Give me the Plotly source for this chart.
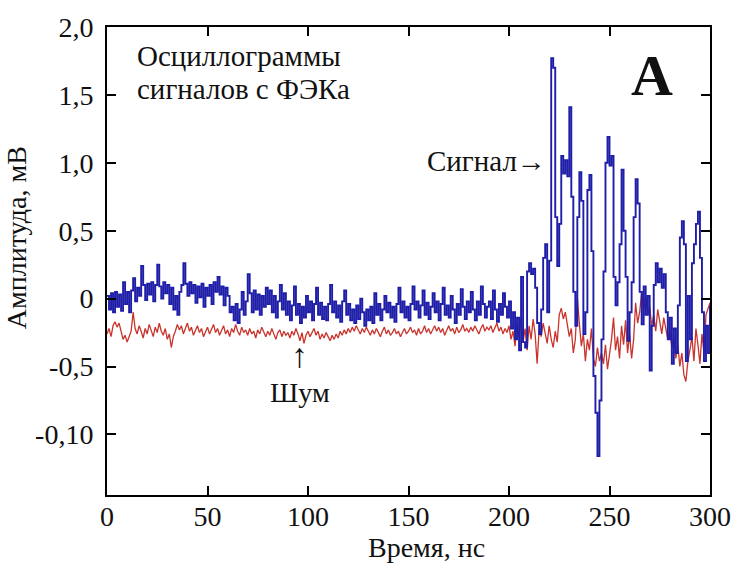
import plotly.graph_objects as go

# Sampling grid of the oscilloscope, ns (1 ns step)
time_ns = list(range(0, 301))

# Photomultiplier (ФЭК) output, mV
signal_mv = [
    0.02, -0.08, 0.04, -0.10, 0.05, -0.06, 0.03, -0.09, 0.12, -0.04,
    0.05, -0.10, 0.06, 0.15, -0.02, 0.08, 0.02, 0.24, 0.10, -0.01,
    0.11, 0.03, 0.12, -0.02, 0.10, 0.25, 0.09, 0.00, 0.12, 0.04,
    0.10, -0.04, 0.08, -0.08, 0.02, -0.12, 0.05, 0.10, 0.26, 0.11,
    0.02, 0.12, 0.04, 0.10, -0.03, 0.09, 0.01, 0.11, -0.06, 0.08,
    0.02, 0.10, -0.04, 0.12, 0.05, 0.16, 0.03, 0.09, -0.05, 0.08,
    0.02, -0.10, -0.06, -0.16, -0.04, -0.18, -0.08, 0.05, -0.12, -0.02,
    0.18, 0.04, -0.10, 0.06, -0.08, 0.03, -0.12, 0.02, -0.06, 0.08,
    -0.04, 0.06, -0.10, 0.02, -0.14, -0.02, 0.10, -0.08, 0.04, -0.12,
    -0.02, -0.16, -0.05, 0.09, -0.12, -0.04, -0.18, -0.06, -0.14, 0.02,
    -0.10, -0.02, -0.16, -0.04, 0.08, -0.12, -0.03, -0.15, -0.06, -0.16,
    -0.04, 0.10, -0.10, -0.02, -0.14, -0.05, -0.17, -0.02, 0.06, -0.12,
    -0.04, -0.16, -0.08, -0.18, -0.05, -0.15, 0.00, -0.10, -0.20, -0.08,
    -0.16, -0.06, -0.18, 0.04, -0.12, -0.04, -0.16, -0.08, 0.02, -0.10,
    -0.03, -0.14, -0.06, -0.17, -0.04, 0.08, -0.10, -0.02, -0.14, -0.06,
    -0.16, -0.04, 0.09, -0.08, -0.02, -0.14, -0.05, 0.06, -0.12, -0.03,
    -0.15, -0.06, 0.04, -0.10, -0.02, -0.16, -0.04, 0.08, -0.12, -0.05,
    -0.14, 0.02, -0.08, -0.18, -0.04, -0.12, 0.07, -0.06, -0.15, -0.02,
    -0.10, 0.05, -0.08, -0.16, -0.02, -0.12, 0.09, -0.04, -0.14, -0.06,
    -0.02, -0.15, 0.06, -0.08, -0.17, -0.04, -0.12, 0.04, -0.06, -0.14,
    -0.02, -0.22, -0.10, -0.30, -0.14, -0.38, 0.16, -0.32, -0.36, 0.20,
    0.26, 0.18, 0.22, 0.08, -0.18, -0.26, -0.08, 0.30, 0.40, -0.10,
    0.28, 1.77, 1.70, 0.60, 0.24, 0.55, 1.05, 0.92, 1.02, 0.90,
    1.41, 0.75, 0.05, -0.20, 0.60, 0.93, 0.72, -0.26, -0.10, 0.80,
    0.91, 0.35, -0.57, -0.84, -1.16, -0.75, -0.30, 0.20, 1.00, 1.19,
    0.98, 1.05, 0.16, -0.05, 0.12, 0.40, 0.95, 0.50, 0.16, -0.31,
    -0.10, 0.12, 0.60, 0.88, 0.70, 0.05, -0.19, 0.09, -0.12, 0.02,
    -0.53, -0.20, 0.10, 0.26, 0.12, 0.22, 0.08, 0.18, -0.10, -0.30,
    -0.14, -0.48, -0.22, -0.40, -0.05, 0.45, 0.57, 0.40, -0.46, 0.02,
    -0.30, 0.26, 0.40, 0.55, 0.64, 0.30, -0.10, -0.46, -0.20, -0.40,
    -0.05,
]

# Background noise trace, mV
noise_mv = [
    -0.26, -0.22, -0.28, -0.20, -0.17, -0.21, -0.18, -0.25, -0.30, -0.27,
    -0.32, -0.28, -0.24, -0.10, -0.22, -0.26, -0.20, -0.24, -0.29, -0.22,
    -0.26, -0.19, -0.23, -0.28, -0.21, -0.25, -0.18, -0.24, -0.27, -0.22,
    -0.30, -0.26, -0.36, -0.28, -0.24, -0.19, -0.23, -0.20, -0.26, -0.22,
    -0.18, -0.24, -0.21, -0.27, -0.23, -0.20, -0.25, -0.22, -0.28, -0.24,
    -0.21, -0.26, -0.23, -0.19, -0.25, -0.22, -0.27, -0.24, -0.20, -0.26,
    -0.23, -0.28, -0.22, -0.25, -0.19, -0.24, -0.27, -0.21, -0.25, -0.23,
    -0.27, -0.22, -0.26, -0.24, -0.29, -0.23, -0.26, -0.21, -0.25, -0.28,
    -0.24, -0.27, -0.22, -0.26, -0.30, -0.25, -0.23, -0.28, -0.24, -0.27,
    -0.25, -0.29, -0.24, -0.27, -0.22, -0.26, -0.31, -0.25, -0.33, -0.27,
    -0.24, -0.28, -0.25, -0.22, -0.27, -0.24, -0.30, -0.26, -0.29, -0.25,
    -0.28, -0.31, -0.27, -0.30, -0.26, -0.29, -0.24, -0.27, -0.23, -0.26,
    -0.22, -0.25, -0.21, -0.24, -0.20, -0.23, -0.26, -0.22, -0.25, -0.21,
    -0.24, -0.27, -0.23, -0.26, -0.22, -0.25, -0.28, -0.24, -0.21, -0.26,
    -0.23, -0.27, -0.25, -0.22, -0.26, -0.24, -0.28, -0.25, -0.22, -0.26,
    -0.24, -0.21, -0.25, -0.23, -0.27, -0.22, -0.26, -0.24, -0.20, -0.25,
    -0.22, -0.26, -0.23, -0.20, -0.24, -0.21, -0.25, -0.22, -0.27, -0.23,
    -0.20, -0.24, -0.22, -0.26, -0.21, -0.25, -0.23, -0.19, -0.24, -0.22,
    -0.25, -0.21, -0.24, -0.20, -0.23, -0.26, -0.22, -0.19, -0.24, -0.21,
    -0.23, -0.20, -0.25, -0.22, -0.18, -0.24, -0.21, -0.26, -0.22, -0.25,
    -0.20, -0.30, -0.24, -0.35, -0.18, -0.28, -0.14, -0.32, -0.22, -0.38,
    -0.20, -0.30, -0.15, -0.26, -0.48, -0.22, -0.28, -0.18, -0.25, -0.33,
    -0.20, -0.30, -0.36, -0.24, -0.32, -0.12, -0.07, -0.15, -0.10, -0.20,
    -0.28, -0.22, -0.40, -0.30, 0.00, -0.18, -0.35, -0.26, -0.46, -0.30,
    -0.38, -0.22, -0.44, -0.50, -0.36, -0.46, -0.40, -0.48, -0.34, -0.52,
    -0.42, -0.30, -0.14, -0.38, -0.28, -0.44, -0.20, -0.34, -0.16, -0.40,
    -0.26, -0.44, -0.30, -0.03, -0.18, -0.10, 0.04, -0.08, 0.02, -0.12,
    -0.06, -0.20, -0.12, -0.24, -0.08, -0.18, -0.26, -0.14, -0.22, -0.30,
    -0.24, -0.36, -0.28, -0.44, -0.34, -0.50, -0.40, -0.56, -0.61, -0.46,
    -0.38, -0.28, -0.46, -0.22, -0.34, -0.48, -0.26, -0.40, -0.12, -0.08,
    -0.03,
]

x_ticks = [0, 50, 100, 150, 200, 250, 300]
y_ticks = [2.0, 1.5, 1.0, 0.5, 0.0, -0.5, -1.0]
y_tick_text = ["2,0", "1,5", "1,0", "0,5", "0", "-0,5", "-0,10"]

FONT = "Liberation Serif"

fig = go.Figure()
fig.add_trace(go.Scatter(
    x=time_ns, y=noise_mv, mode="lines",
    line=dict(color="#c8342c", width=1.3),
    showlegend=False, hoverinfo="skip",
))
fig.add_trace(go.Scatter(
    x=time_ns, y=signal_mv, mode="lines",
    line=dict(color="#1e1ea8", width=1.9, shape="hv"),
    showlegend=False, hoverinfo="skip",
))

axis_common = dict(
    showline=True, linecolor="black", linewidth=2, mirror="ticks",
    ticks="inside", ticklen=9, tickwidth=2, tickcolor="black",
    showgrid=False, zeroline=False,
    tickfont=dict(family=FONT, size=28, color="#111"),
)

fig.update_layout(
    width=743, height=565,
    margin=dict(l=107, r=30, t=16, b=70),
    paper_bgcolor="white", plot_bgcolor="white",
    xaxis=dict(range=[0, 300], tickvals=x_ticks, ticklabelstandoff=-5,
               **axis_common),
    yaxis=dict(range=[-1.446, 2.0], tickvals=y_ticks, ticktext=y_tick_text,
               ticklabelstandoff=6, **axis_common),
    font=dict(family=FONT, color="#111"),
)

annotations = [
    dict(x=14, y=1.79, text="Осциллограммы", xanchor="left", yanchor="middle",
         font=dict(size=29)),
    dict(x=14, y=1.54, text="сигналов с ФЭКа", xanchor="left", yanchor="middle",
         font=dict(size=29)),
    dict(x=271, y=1.64, text="<b>A</b>", xanchor="center", yanchor="middle",
         font=dict(size=58)),
    dict(x=219.5, y=1.01, text="Сигнал→", xanchor="right", yanchor="middle",
         font=dict(size=29)),
    dict(x=96, y=-0.42, text="↑", xanchor="center", yanchor="middle",
         font=dict(size=34)),
    dict(x=96, y=-0.69, text="Шум", xanchor="center", yanchor="middle",
         font=dict(size=28)),
]
for a in annotations:
    fig.add_annotation(xref="x", yref="y", showarrow=False, **a)

# Axis titles placed as paper annotations
fig.add_annotation(xref="paper", yref="paper", x=0.53, y=-0.113,
                   text="Время, нс", showarrow=False, xanchor="center",
                   yanchor="middle", font=dict(size=28))
fig.add_annotation(xref="paper", yref="paper", x=-0.15, y=0.55,
                   text="Амплитуда, мВ", showarrow=False, textangle=-90,
                   xanchor="center", yanchor="middle", font=dict(size=28))

fig.write_html("out.html")
